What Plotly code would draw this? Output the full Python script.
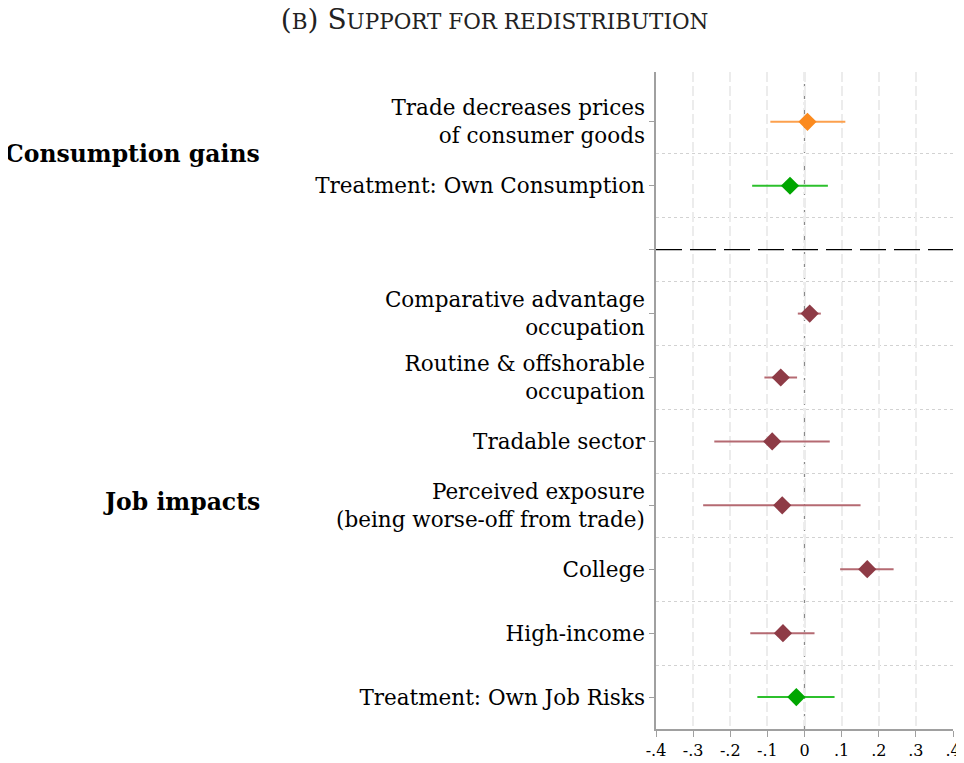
import plotly.graph_objects as go

# row labels (top to bottom), slot 3 is the separator
labels = [
    "Trade decreases prices<br>of consumer goods",
    "Treatment: Own Consumption",
    "",
    "Comparative advantage<br>occupation",
    "Routine & offshorable<br>occupation",
    "Tradable sector",
    "Perceived exposure<br>(being worse-off from trade)",
    "College",
    "High-income",
    "Treatment: Own Job Risks",
]
rows = [1, 2, 4, 5, 6, 7, 8, 9, 10]
coef = [0.008, -0.039, 0.014, -0.064, -0.087, -0.060, 0.169, -0.058, -0.022]
ci_lo = [-0.092, -0.141, -0.018, -0.108, -0.243, -0.273, 0.096, -0.146, -0.127]
ci_hi = [0.110, 0.063, 0.044, -0.020, 0.068, 0.151, 0.240, 0.027, 0.081]
kind = ["prices", "treat", "job", "job", "job", "job", "job", "job", "treat"]

marker_col = {"prices": "#fb8a1e", "treat": "#00a600", "job": "#8e3b46"}
line_col = {"prices": "#fca04d", "treat": "#2cc02c", "job": "#b56a72"}

xticks = [-0.4, -0.3, -0.2, -0.1, 0, 0.1, 0.2, 0.3, 0.4]
xticktext = ["-.4", "-.3", "-.2", "-.1", "0", ".1", ".2", ".3", ".4"]

font = "DejaVu Serif"
fig = go.Figure()

# confidence intervals
for r, lo, hi, k in zip(rows, ci_lo, ci_hi, kind):
    fig.add_trace(go.Scatter(
        x=[lo, hi], y=[r, r], mode="lines",
        line=dict(color=line_col[k], width=2), showlegend=False, hoverinfo="skip"))

# point estimates
fig.add_trace(go.Scatter(
    x=coef, y=rows, mode="markers", showlegend=False,
    marker=dict(symbol="diamond", size=14, color=[marker_col[k] for k in kind],
                line=dict(width=0))))

# separator between groups
fig.add_hline(y=3, line=dict(color="black", width=1.3, dash="26px,8px"))
fig.add_vline(x=0, line=dict(color="#8a8a8a", width=1.3, dash="dashdot"), layer="below")

# group labels
fig.add_annotation(text="<b>Consumption gains</b>", x=-1.327, y=1.5, xref="paper", yref="y",
                   xanchor="right", showarrow=False, font=dict(family=font, size=23.5, color="black"))
fig.add_annotation(text="<b>Job impacts</b>", x=-1.327, y=6.95, xref="paper", yref="y",
                   xanchor="right", showarrow=False, font=dict(family=font, size=23.5, color="black"))

sc = "font-size:21.5px"
fig.update_layout(
    width=956, height=755,
    margin=dict(l=648, r=11, t=64, b=34),
    paper_bgcolor="white", plot_bgcolor="white",
    font=dict(family=font, color="black"),
    title=dict(
        text=f"(<span style='{sc}'>B</span>) S<span style='{sc}'>UPPORT FOR REDISTRIBUTION</span>",
        x=0.509, xref="container", xanchor="center", y=0.985, yanchor="middle",
        font=dict(family=font, size=28, color="#222")),
    xaxis=dict(
        range=[-0.4, 0.4], tickvals=xticks, ticktext=xticktext, automargin=False,
        showgrid=True, gridcolor="#ececec", gridwidth=1.5, griddash="10px,4px",
        zeroline=False, showline=True, linecolor="#a0a0a0", linewidth=1.5,
        ticks="outside", ticklen=6, tickcolor="#a0a0a0",
        tickfont=dict(family=font, size=16, color="black")),
    yaxis=dict(
        range=[10.5, 0.22], tickvals=list(range(1, 11)), ticktext=labels, automargin=False,
        showgrid=False, zeroline=False, showline=True, linecolor="#a0a0a0", linewidth=1.5,
        ticks="outside", ticklen=5, tickcolor="#a0a0a0",
        tickfont=dict(family=font, size=21.5, color="black"),
        minor=dict(tickvals=[k + 0.5 for k in range(1, 10) if k not in (2, 3)] + [2.5, 3.5],
                   showgrid=True, gridcolor="#d2d2d2", gridwidth=1, griddash="dot", ticks="")),
)

fig.write_html("out.html")
